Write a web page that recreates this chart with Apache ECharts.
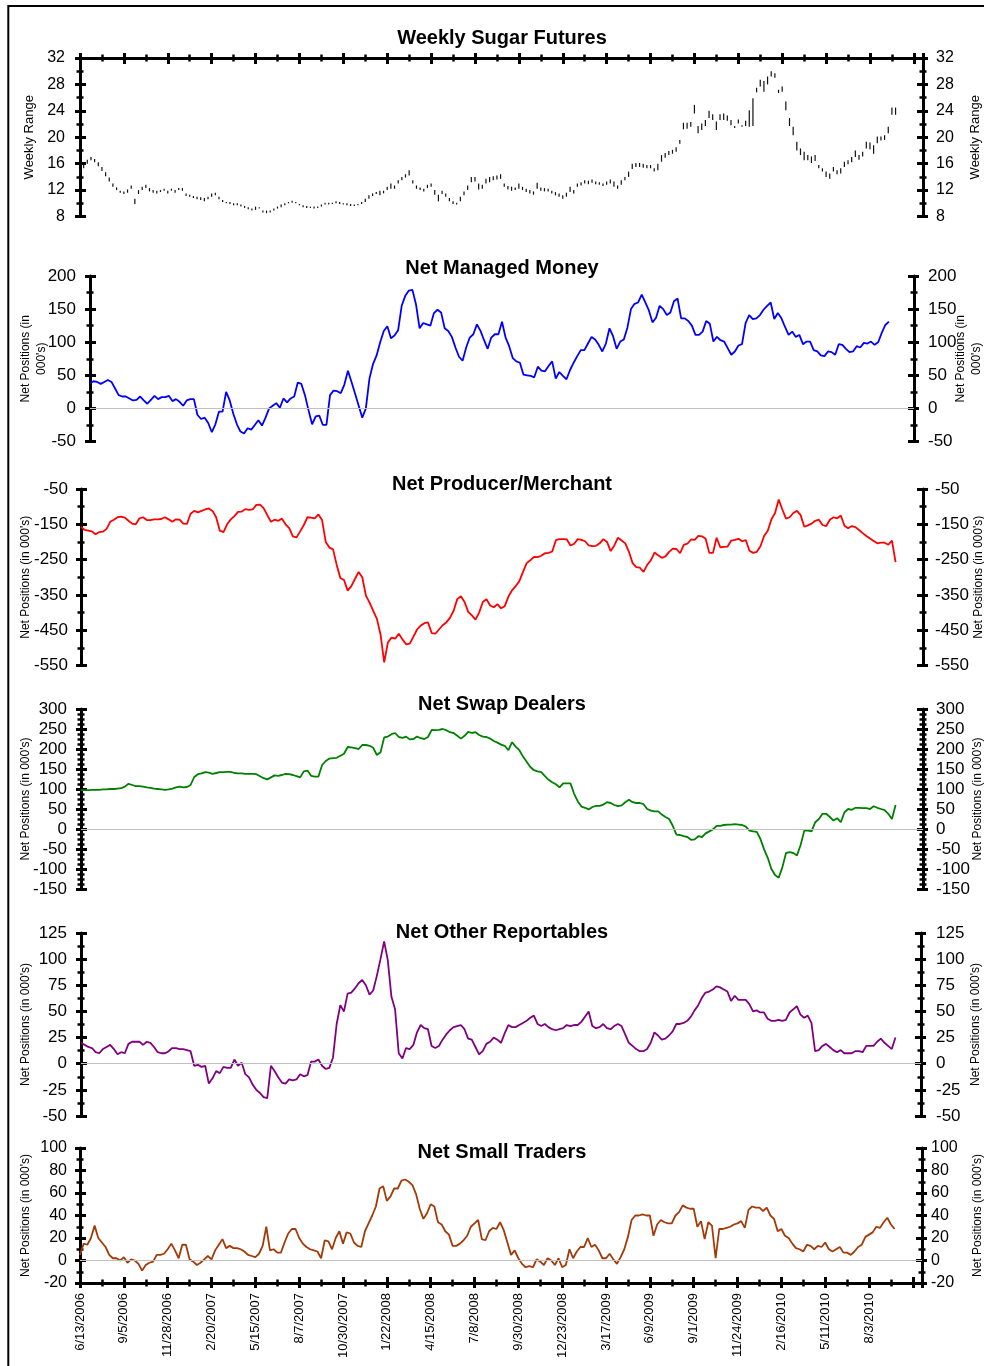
<!DOCTYPE html>
<html>
<head>
<meta charset="utf-8">
<title>Sugar COT</title>
<script src="https://cdn.jsdelivr.net/npm/echarts@6/dist/echarts.min.js"></script>
<style>
html, body { margin: 0; padding: 0; background: #fff; }
#chart { width: 984px; height: 1366px; }
</style>
</head>
<body>
<div id="chart"></div>
<script>
var FONT = '"Liberation Sans", Arial, Helvetica, sans-serif';

// x labels, one every 12 weeks starting 6/13/2006
var tickLabels = ['6/13/2006', '9/5/2006', '11/28/2006', '2/20/2007', '5/15/2007', '8/7/2007',
  '10/30/2007', '1/22/2008', '4/15/2008', '7/8/2008', '9/30/2008', '12/23/2008', '3/17/2009',
  '6/9/2009', '9/1/2009', '11/24/2009', '2/16/2010', '5/11/2010', '8/3/2010'];

// weekly range of sugar futures (cents/lb)
var sugarLow = [
  14.3,15.3,16.0,16.5,16.2,15.6,14.9,14.1,13.3,12.5,
  12.0,11.6,11.4,11.6,12.2,9.9,11.4,12.0,12.3,11.8,
  11.6,11.5,11.7,11.9,11.5,11.9,11.6,12.0,11.9,11.1,
  11.0,10.8,10.6,10.5,10.3,10.6,11.0,11.2,10.6,10.2,
  10.0,9.9,9.7,9.7,9.5,9.3,9.1,8.9,9.0,9.2,
  8.6,8.5,8.6,8.9,9.2,9.4,9.7,10.0,10.1,10.0,
  9.7,9.4,9.3,9.3,9.2,9.3,9.5,9.8,9.8,9.9,
  10.0,9.9,9.8,9.7,9.6,9.6,9.7,9.9,10.2,10.7,
  11.1,11.4,11.2,11.5,12.0,12.2,12.2,13.0,13.5,13.9,
  14.2,13.0,12.2,12.0,11.8,12.3,12.5,11.3,10.3,11.4,
  11.0,10.3,9.9,9.8,10.3,11.2,12.0,13.2,13.3,
  12.1,12.2,13.0,13.2,13.5,13.6,13.7,12.5,12.1,11.9,
  12.0,12.2,12.0,11.7,11.5,11.3,12.2,11.9,11.8,11.8,
  11.5,11.2,11.0,10.7,11.0,11.7,11.5,12.5,12.7,13.0,
  12.9,13.1,12.9,12.8,12.6,12.8,13.0,12.5,12.2,12.8,
  13.5,14.0,15.2,15.5,15.5,15.4,15.3,15.3,14.8,15.0,
  16.3,16.9,17.3,17.5,17.8,19.0,21.2,21.3,21.6,23.6,
  20.6,21.1,21.7,22.9,22.6,21.1,22.6,22.6,22.5,21.8,
  21.4,22.1,21.6,21.7,21.6,21.7,26.8,27.7,26.9,28.0,
  29.2,29.0,26.7,26.9,24.1,21.7,20.3,18.0,17.3,16.5,
  16.5,16.1,16.4,15.3,14.8,14.0,13.7,14.8,14.4,14.5,
  15.5,15.9,16.2,17.0,16.6,17.1,18.3,18.2,17.5,19.1,
  19.5,19.6,20.6,23.4,23.4
];
var sugarHigh = [
  15.2,16.0,16.6,17.0,16.7,16.2,15.5,14.7,13.9,13.0,
  12.4,11.9,11.8,12.1,12.7,10.7,12.0,12.5,12.8,12.3,
  12.0,11.9,12.0,12.2,11.9,12.2,12.0,12.3,12.3,11.5,
  11.3,11.1,11.0,10.9,10.8,11.0,11.5,11.6,11.0,10.5,
  10.2,10.2,10.0,10.0,9.8,9.6,9.4,9.2,9.5,9.4,
  8.9,8.9,8.9,9.2,9.5,9.8,10.0,10.2,10.4,10.2,
  9.9,9.7,9.6,9.5,9.5,9.5,9.8,10.1,10.1,10.1,
  10.3,10.2,10.0,10.0,9.9,9.8,9.9,10.2,10.7,11.2,
  11.5,11.7,11.9,11.9,12.5,13.0,12.7,13.5,14.0,14.4,
  15.0,13.5,12.7,12.4,12.2,12.8,13.0,12.0,11.3,11.9,
  11.5,10.8,10.3,10.1,11.0,11.8,12.7,14.0,14.0,
  13.0,12.8,13.7,14.0,14.1,14.2,14.4,13.0,12.6,12.5,
  12.4,13.0,12.5,12.2,12.0,11.8,13.1,12.4,12.3,12.2,
  11.9,11.7,11.5,11.2,11.6,12.5,12.0,13.0,13.2,13.5,
  13.4,13.6,13.3,13.2,13.0,13.3,13.6,13.3,12.7,13.5,
  14.0,14.8,16.0,16.1,16.1,16.0,15.8,15.8,15.3,16.0,
  17.3,17.6,17.9,18.1,18.5,19.6,22.2,22.2,22.3,24.9,
  21.7,22.1,22.6,24.0,23.5,22.4,23.5,23.6,23.3,22.6,
  21.7,22.7,21.8,22.5,24.1,25.9,27.5,28.7,28.5,29.2,
  30.0,29.7,27.2,27.7,25.4,22.9,21.6,19.3,18.3,17.8,
  17.3,17.1,17.3,15.8,15.3,14.8,14.5,15.5,15.0,15.3,
  16.3,16.5,17.0,18.0,17.3,17.8,19.3,19.2,18.8,20.1,
  20.1,20.3,21.6,24.5,24.5
];

// net positions, thousands of contracts
var managedMoney = [
  38,41,40,37,40,43,40,30,20,18, 18,15,12,13,18,12,7,13,19,14,
  17,17,19,11,14,10,4,12,14,14, -10,-16,-14,-22,-36,-24,-5,-5,25,12,
  -8,-24,-35,-38,-30,-32,-25,-18,-26,-14, 0,4,8,1,15,9,15,18,39,37,
  20,-3,-24,-12,-11,-25,-25,20,27,26, 23,36,57,40,22,4,-14,0,45,67,
  80,100,117,124,106,110,118,155,170,178, 179,157,121,129,127,125,144,149,145,121,
  117,108,92,78,72,92,107,112,127,117, 103,90,107,112,112,131,107,94,76,71,
  69,51,50,49,47,63,57,56,64,71, 45,55,49,44,58,69,79,88,88,98,
  108,104,96,86,98,121,109,90,101,104, 122,150,158,160,172,160,148,130,137,155,
  150,141,145,162,166,136,136,132,125,111, 111,116,132,128,101,108,103,101,91,81,
  86,95,97,129,141,135,136,141,149,155, 160,135,144,136,123,111,116,108,111,97,
  101,101,88,86,80,79,86,85,81,97, 96,90,85,86,94,92,99,98,101,96,
  100,114,126,131
];
var producerMerchant = [
  -157,-166,-168,-170,-178,-172,-171,-163,-143,-137, -130,-128,-131,-140,-148,-150,-133,-130,-138,-138,
  -136,-136,-135,-130,-136,-143,-136,-137,-148,-149, -120,-112,-116,-112,-108,-105,-112,-130,-168,-172,
  -150,-136,-127,-115,-114,-107,-109,-108,-95,-94, -104,-124,-143,-137,-140,-134,-150,-161,-184,-187,
  -170,-152,-130,-131,-133,-122,-138,-200,-216,-221, -265,-302,-308,-338,-325,-305,-285,-300,-352,-372,
  -395,-418,-462,-541,-485,-471,-474,-460,-476,-490, -488,-468,-448,-437,-430,-428,-458,-460,-448,-436,
  -428,-415,-395,-362,-354,-370,-398,-408,-420,-400, -370,-362,-380,-385,-376,-388,-382,-355,-337,-325,
  -311,-285,-260,-252,-242,-243,-239,-232,-231,-227, -195,-192,-192,-193,-210,-205,-192,-194,-198,-210,
  -212,-211,-204,-192,-200,-226,-210,-188,-196,-204, -228,-260,-271,-273,-285,-265,-252,-230,-238,-245,
  -241,-228,-219,-220,-232,-208,-205,-193,-194,-183, -184,-191,-231,-231,-188,-215,-214,-213,-196,-194,
  -191,-198,-195,-225,-231,-228,-212,-183,-168,-136, -118,-80,-108,-134,-130,-118,-112,-124,-157,-153,
  -148,-140,-137,-152,-155,-137,-130,-133,-125,-154, -161,-155,-158,-166,-175,-183,-190,-197,-204,-202,
  -202,-208,-196,-257
];
var swapDealers = [
  97,97,97,98,98,98,99,99,100,100, 101,102,106,113,110,107,107,106,104,103,
  101,100,99,98,99,101,104,106,104,105, 110,130,137,139,142,141,138,140,142,142,
  143,143,140,139,139,138,138,138,137,132, 127,124,129,134,133,135,138,137,135,132,
  129,144,146,133,131,131,160,170,176,177, 178,183,188,205,204,202,200,210,210,208,
  203,185,192,229,231,237,240,230,228,231, 224,225,231,227,225,230,248,247,248,250,
  247,242,240,233,226,233,243,240,242,235, 231,230,226,220,216,211,208,197,217,206,
  197,181,168,155,147,144,142,132,123,117, 112,104,114,114,114,88,69,56,53,49,
  55,58,58,61,67,65,60,57,59,67, 73,67,65,65,62,50,46,44,44,36,
  30,25,8,-14,-15,-18,-20,-27,-26,-18, -20,-11,-6,-1,8,8,10,11,11,12,
  11,10,6,-4,-6,-7,-25,-51,-72,-100, -115,-122,-96,-60,-58,-60,-66,-40,-4,-4,
  -6,17,25,38,38,30,21,27,17,42, 50,48,53,53,52,52,50,57,53,50,
  47,38,25,60
];
var otherReportables = [
  20,18,16,15,11,10,14,16,18,14, 9,11,10,19,21,21,21,18,21,20,
  16,11,10,10,12,15,15,14,14,13, 12,-2,-1,-3,-2,-19,-14,-7,-9,-3,
  -4,-4,4,-2,1,-10,-13,-20,-25,-28, -32,-33,-2,-7,-13,-18,-19,-15,-16,-15,
  -10,-12,-11,2,2,4,-2,-5,-4,6, 38,56,50,67,68,72,77,80,75,66,
  70,84,100,117,99,64,52,10,5,15, 14,18,30,37,34,33,17,15,17,23,
  28,32,35,36,37,33,24,23,16,9, 12,19,21,25,23,20,29,37,35,35,
  37,39,41,44,46,38,36,38,35,33, 32,33,34,37,36,37,37,40,45,50,
  36,34,35,38,34,33,36,38,36,28, 20,17,14,12,12,14,20,30,27,23,
  24,27,31,38,38,39,41,45,51,56, 63,68,69,71,74,73,71,69,60,65,
  61,61,61,57,50,51,49,49,43,41, 41,42,41,42,49,52,55,47,44,46,
  39,12,13,17,19,16,13,11,13,10, 10,10,12,12,11,17,17,17,21,24,
  20,17,14,25
];
var smallTraders = [
  5,15,14,20,31,20,16,12,5,2, 2,0,3,-2,1,0,-3,-9,-4,-2,
  -1,5,5,6,10,15,9,2,14,14, 1,-1,-4,-2,1,4,1,9,14,19,
  11,13,11,11,10,8,5,4,3,6, 13,30,9,10,7,7,16,24,28,28,
  20,15,12,10,9,8,2,18,17,10, 20,26,15,25,24,16,13,12,26,33,
  40,48,64,66,53,57,64,64,71,72, 70,67,59,46,37,42,50,48,34,32,
  26,23,13,13,15,18,22,30,33,36, 19,18,26,29,28,34,27,16,5,9,
  2,-3,-6,-5,-6,1,-1,-4,2,0, -4,2,-6,-4,10,2,8,12,12,20,
  12,14,9,2,2,6,1,-3,3,10, 21,36,40,40,41,40,40,22,32,36,
  34,33,33,40,43,49,47,46,46,30, 35,19,34,31,2,28,28,29,30,32,
  33,35,29,45,48,47,47,44,47,40, 37,26,28,22,20,15,11,10,8,14,
  13,10,13,12,16,10,8,10,12,7, 7,5,8,12,14,21,23,25,30,29,
  34,38,32,28
];

var NETNAME = "Net Positions (in 000's)";

// layout of the six stacked panels (pixel positions of the plot boxes)
var panels = [
  { title: 'Weekly Sugar Futures', ty: 38, left: 80, right: 923, top: 58, bottom: 216.5, xMax: 230.5,
    min: 8, max: 32, step: 4, minor: 2, name: 'Weekly Range', nameSize: 13, gapL: 42, gapR: 44, font: 16, marL: 15, marR: 13 },
  { title: 'Net Managed Money', ty: 268, left: 90, right: 914, top: 276, bottom: 441.5, xMax: 230,
    min: -50, max: 200, step: 50, minor: 2, name: "Net Positions (in\n000's)", nameSize: 12, gapL: 40, gapR: 39, font: 17, marL: 14, marR: 14,
    data: managedMoney, color: '#0000ff' },
  { title: 'Net Producer/Merchant', ty: 484, left: 81, right: 923, top: 489, bottom: 665.5, xMax: 230.5,
    min: -550, max: -50, step: 100, minor: 2, name: NETNAME, nameSize: 12, gapL: 47, gapR: 48, font: 17, marL: 13, marR: 12,
    data: producerMerchant, color: '#ff0000' },
  { title: 'Net Swap Dealers', ty: 704, left: 81, right: 923, top: 709, bottom: 889, xMax: 230.5,
    min: -150, max: 300, step: 50, minor: 4, name: NETNAME, nameSize: 12, gapL: 47, gapR: 47, font: 17, marL: 14, marR: 13,
    data: swapDealers, color: '#008000' },
  { title: 'Net Other Reportables', ty: 932, left: 81, right: 921, top: 933, bottom: 1116, xMax: 230,
    min: -50, max: 125, step: 25, minor: 2, name: NETNAME, nameSize: 12, gapL: 47, gapR: 47, font: 17, marL: 14, marR: 15,
    data: otherReportables, color: '#800080' },
  { title: 'Net Small Traders', ty: 1152, left: 80, right: 922, top: 1148, bottom: 1283, xMax: 230.5,
    min: -20, max: 100, step: 20, minor: 2, name: NETNAME, nameSize: 12, gapL: 46, gapR: 48, font: 16, marL: 13, marR: 9,
    data: smallTraders, color: '#a33a08' }
];

var grids = [], xAxes = [], yAxes = [], series = [];
var graphics = [{
  type: 'rect', silent: true, z: 100,
  shape: { x: 8.3, y: 6, width: 1000, height: 1400 },
  style: { fill: 'none', stroke: '#000', lineWidth: 2 }
}];

function axisLine(show) {
  return { show: show, onZero: false, lineStyle: { color: '#000', width: 3 } };
}
function majorTick(inside) {
  return { show: true, inside: inside, length: inside ? 6 : 5, lineStyle: { color: '#000', width: 3 } };
}
function minorTick(n) {
  return { show: true, splitNumber: n, length: 3.5, lineStyle: { color: '#000', width: 2.5 } };
}

// ticks cross the axis line, so every visible axis is drawn twice (ticks out + ticks in)
function addY(gi, p, side) {
  yAxes.push({
    type: 'value', gridIndex: gi, position: side, min: p.min, max: p.max, interval: p.step,
    axisLine: axisLine(true), axisTick: majorTick(false), minorTick: minorTick(p.minor),
    splitLine: { show: false },
    axisLabel: { color: '#000', fontSize: p.font, fontFamily: FONT, margin: side === 'left' ? p.marL : p.marR },
    name: p.name, nameLocation: 'middle', nameRotate: 90, nameMoveOverlap: false,
    nameGap: side === 'left' ? p.gapL : p.gapR,
    nameTextStyle: { color: '#000', fontSize: p.nameSize, fontFamily: FONT, lineHeight: p.nameSize + 4 }
  });
  var idx = yAxes.length - 1;
  yAxes.push({
    type: 'value', gridIndex: gi, position: side, min: p.min, max: p.max, interval: p.step,
    axisLine: axisLine(false), axisTick: majorTick(true), minorTick: minorTick(p.minor),
    splitLine: { show: false }, axisLabel: { show: false }
  });
  return idx;
}

function addX(gi, p, pos, visible, labels) {
  if (!visible) {
    xAxes.push({ type: 'value', gridIndex: gi, show: false, min: 0, max: p.xMax, interval: 12 });
    return xAxes.length - 1;
  }
  xAxes.push({
    type: 'value', gridIndex: gi, position: pos, min: 0, max: p.xMax, interval: 12,
    axisLine: axisLine(true), axisTick: majorTick(false), minorTick: minorTick(2),
    splitLine: { show: false },
    axisLabel: labels ? {
      show: true, rotate: 90, color: '#000', fontSize: 13, fontFamily: FONT, margin: 10,
      formatter: function (v) {
        var k = Math.round(v / 12);
        return (Math.abs(v - k * 12) < 0.001 && k < tickLabels.length) ? tickLabels[k] : '';
      }
    } : { show: false }
  });
  var idx = xAxes.length - 1;
  xAxes.push({
    type: 'value', gridIndex: gi, position: pos, min: 0, max: p.xMax, interval: 12,
    axisLine: axisLine(false), axisTick: majorTick(true), minorTick: minorTick(2),
    splitLine: { show: false }, axisLabel: { show: false }
  });
  return idx;
}

function zeroLine() {
  return {
    silent: true, symbol: ['none', 'none'], label: { show: false },
    lineStyle: { color: '#c0c0c0', width: 1, type: 'solid' },
    data: [{ yAxis: 0 }]
  };
}

panels.forEach(function (p, gi) {
  grids.push({
    left: p.left, top: p.top, width: p.right - p.left, height: p.bottom - p.top,
    containLabel: false, outerBoundsMode: 'none'
  });
  var xi;
  if (gi === 0) xi = addX(gi, p, 'top', true, false);
  else if (gi === panels.length - 1) xi = addX(gi, p, 'bottom', true, true);
  else xi = addX(gi, p, 'bottom', false, false);
  var yi = addY(gi, p, 'left');
  addY(gi, p, 'right');

  if (gi === 0) {
    series.push({
      type: 'custom', xAxisIndex: xi, yAxisIndex: yi,
      data: sugarLow.map(function (lo, i) { return [i, lo, sugarHigh[i]]; }),
      encode: { x: 0, y: [1, 2] },
      renderItem: function (params, api) {
        var a = api.coord([api.value(0), api.value(1)]);
        var b = api.coord([api.value(0), api.value(2)]);
        return {
          type: 'line',
          shape: { x1: a[0], y1: a[1], x2: b[0], y2: b[1] },
          style: { stroke: '#111', lineWidth: 1.2 }
        };
      }
    });
  } else {
    series.push({
      type: 'line', xAxisIndex: xi, yAxisIndex: yi,
      data: p.data.map(function (v, i) { return [i, v]; }),
      showSymbol: false, symbol: 'none',
      lineStyle: { color: p.color, width: 1.8 },
      itemStyle: { color: p.color },
      markLine: zeroLine()
    });
  }

  graphics.push({
    type: 'text', x: 502, y: p.ty, silent: true,
    style: {
      text: p.title, font: 'bold 20px ' + FONT, fill: '#000',
      align: 'center', verticalAlign: 'middle',
      textAlign: 'center', textVerticalAlign: 'middle'
    }
  });
});

var chart = echarts.init(document.getElementById('chart'), null, { renderer: 'canvas' });
chart.setOption({
  animation: false,
  backgroundColor: '#fff',
  grid: grids,
  xAxis: xAxes,
  yAxis: yAxes,
  series: series,
  graphic: graphics
});
</script>
</body>
</html>
